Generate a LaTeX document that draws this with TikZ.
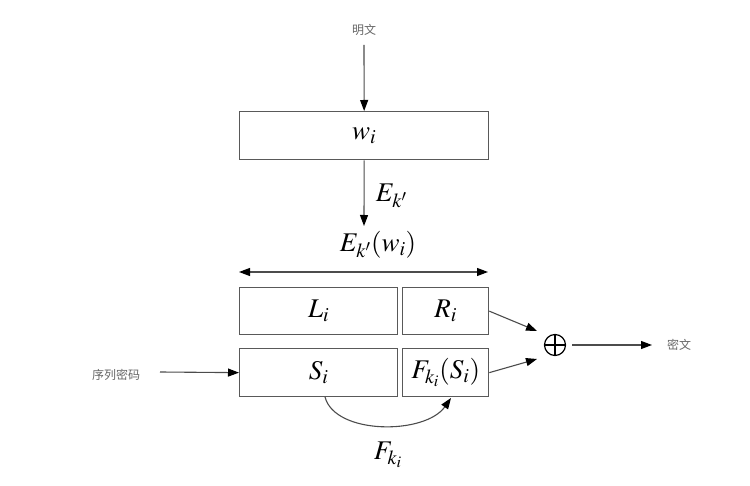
\documentclass[tikz,border=0pt]{standalone}
\usepackage{mathptmx}
\usepackage{fontspec}
\newfontfamily\cjk{Noto Sans CJK SC}
\usetikzlibrary{arrows.meta}
\begin{document}
\begin{tikzpicture}[x=1pt,y=-1pt,
  line width=1.1pt,
  box/.style={draw=black!65,line width=1.3pt,inner sep=0pt,anchor=north west},
  mtext/.style={font=\fontsize{27}{30}\selectfont},
  cn/.style={font=\cjk\fontsize{12}{14}\selectfont,text=black!60},
  arr/.style={draw=black!70,-{Triangle[length=11pt,width=8pt,color=black]}},
  darr/.style={draw=black!70,{Triangle[length=11pt,width=8pt,color=black]}-{Triangle[length=11pt,width=8pt,color=black]}}]
\useasboundingbox (0,0) rectangle (750,486);
% boxes
\node[box,minimum width=249,minimum height=48,mtext] (w) at (239,111) {$w_i$};
\node[box,minimum width=158,minimum height=47,mtext] (L) at (239,287) {$L_i$};
\node[box,minimum width=86,minimum height=47,mtext] (R) at (402,287) {$R_i$};
\node[box,minimum width=158,minimum height=48,mtext] (S) at (239,348) {$S_i$};
\node[box,minimum width=86,minimum height=48,mtext] (F) at (402,348) {$F_{k_i}(S_i)$};
% texts
\node[cn] (pt) at (364,30) {明文};
\node[cn] (seq) at (116,375) {序列密码};
\node[cn] (ct) at (679,345) {密文};
\node[mtext,anchor=west] (ek) at (372,196) {$E_{k'}$};
\node[mtext] (ekw) at (378,245) {$E_{k'}(w_i)$};
\node[mtext] (fk) at (388,455) {$F_{k_i}$};
% xor
\node[circle,draw=black,line width=1.2pt,minimum size=21,inner sep=0pt] (x) at (555,345) {};
\draw[line width=1.2pt] (x.north) -- (x.south) (x.west) -- (x.east);
% coordinates
\coordinate (ptend) at (364,45);
\coordinate (eend) at (364,226);
\coordinate (dl) at (239,272);
\coordinate (dr) at (488,272);
\coordinate (seqs) at (160,372);
\coordinate (rin) at (537,331);
\coordinate (fin) at (537,359);
\coordinate (xout) at (572,345);
\coordinate (ctin) at (652,345);
\coordinate (sbot) at (325,397);
\coordinate (fbot) at (451,398);
% arrows
\draw[arr] (ptend) -- (w.north);
\draw[arr] (w.south) -- (eend);
\draw[darr] (dl) -- (dr);
\draw[arr] (seqs) -- (S.west);
\draw[arr] (R.east) -- (rin);
\draw[arr] (F.east) -- (fin);
\draw[arr] (xout) -- (ctin);
\draw[arr] (sbot) .. controls (335,435) and (425,435) .. (fbot);
\end{tikzpicture}
\end{document}
